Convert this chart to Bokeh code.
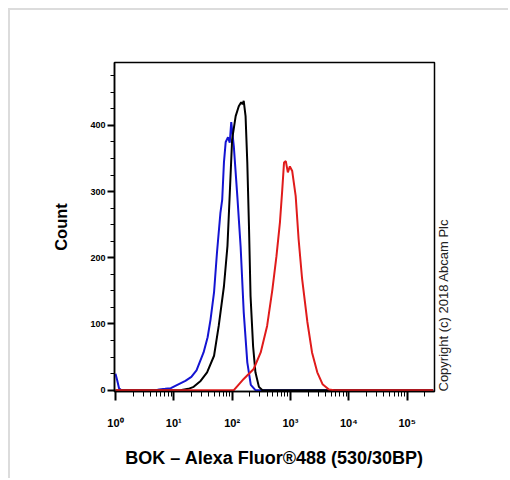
import math
from bokeh.plotting import figure
from bokeh.models import Range1d, FixedTicker, SingleIntervalTicker, LinearAxis
from bokeh.embed import file_html
from bokeh.resources import INLINE

# ---- data (fluorescence intensity vs count) ----
blue_x = [1.0, 1.07, 1.15, 1.26, 5.0, 5.6, 7.1, 8.9, 11.5, 15.8, 20, 24.5, 32.4, 38, 42.7, 49, 55, 63,
          67.6, 72.4, 77.6, 85, 91, 96.6, 107, 123, 140, 158, 182, 209, 251, 2.8e5]
blue_y = [25, 15, 3, 0, 0, 1, 2, 3, 8, 14, 20, 30, 57, 80, 107, 148, 208, 268,
          288, 344, 375, 382, 374, 405, 368, 292, 216, 118, 42, 8, 0, 0]

black_x = [1.0, 12.9, 17.8, 21.9, 28.8, 37.2, 49, 58.9, 72.4, 83.2, 93.3, 100, 115, 130, 143, 151,
           158, 170, 182, 195, 207, 229, 251, 288, 331, 2.8e5]
black_y = [0, 0, 2, 5, 14, 27, 52, 97, 157, 218, 318, 379, 414, 429, 435, 432,
           437, 414, 344, 243, 142, 66, 27, 5, 0, 0]

red_x = [1.0, 107, 158, 234, 309, 398, 490, 575, 661, 724, 776, 832, 902, 977, 1072, 1230, 1380,
         1585, 1950, 2344, 2884, 3548, 4571, 5623, 2.8e5]
red_y = [0, 0, 17, 32, 57, 97, 152, 202, 254, 303, 344, 346, 329, 338, 331, 293, 228,
         168, 103, 57, 27, 9, 1, 0, 0]

x_major = [1, 10, 100, 1000, 10000, 100000]
x_labels = ["10⁰", "10¹", "10²", "10³", "10⁴", "10⁵"]

FONT = "Liberation Sans"

p = figure(width=500, height=470, x_axis_type="log",
           x_range=Range1d(0.962, 2.95e5), y_range=Range1d(-2, 495),
           output_backend="svg", toolbar_location=None,
           min_border_left=104, min_border_top=52, min_border_right=76, min_border_bottom=89,
           styles={"margin-left": "8px", "margin-top": "8px",
                   "border-top": "2px solid #dcdcdc", "border-left": "2px solid #dcdcdc"})

p.grid.visible = False
p.outline_line_color = "black"
p.outline_line_width = 1.5

p.line(blue_x, blue_y, line_color="#1414d2", line_width=2)
p.line(black_x, black_y, line_color="black", line_width=2)
p.line(red_x, red_y, line_color="#e01b1b", line_width=2)

# x axis
minor = [m * d for d in x_major for m in range(2, 10)]
p.xaxis.ticker = FixedTicker(ticks=x_major, minor_ticks=minor)
p.xaxis.major_label_overrides = {t: l for t, l in zip(x_major, x_labels)}
p.xaxis.axis_label = "BOK – Alexa Fluor®488 (530/30BP)"

# y axis
p.yaxis.ticker = SingleIntervalTicker(interval=100, num_minor_ticks=4)
p.yaxis.axis_label = "Count"

for ax in (p.xaxis[0], p.yaxis[0]):
    ax.axis_line_color = "black"
    ax.axis_line_width = 1.5
    ax.major_tick_line_color = "black"
    ax.minor_tick_line_color = "black"
    ax.major_tick_line_width = 2
    ax.minor_tick_line_width = 1
    ax.major_tick_in = 0
    ax.minor_tick_in = 0
    ax.major_label_text_font = FONT
    ax.major_label_text_font_style = "bold"
    ax.major_label_text_color = "black"
    ax.axis_label_text_font = FONT
    ax.axis_label_text_font_style = "bold"
    ax.axis_label_text_color = "black"

p.xaxis.major_tick_out = 9
p.xaxis.minor_tick_out = 5
p.xaxis.major_label_standoff = 16
p.xaxis.major_label_text_font_size = "11px"
p.xaxis.axis_label_text_font_size = "18px"
p.xaxis.axis_label_standoff = 16

p.yaxis.major_tick_out = 7
p.yaxis.minor_tick_out = 4
p.yaxis.major_label_standoff = 2
p.yaxis.major_label_text_font_size = "9px"
p.yaxis.axis_label_text_font_size = "16.5px"
p.yaxis.axis_label_standoff = 17

# copyright note as the label of a bare right-hand axis
cr = LinearAxis(ticker=FixedTicker(ticks=[]), axis_line_color=None,
                major_tick_line_color=None, minor_tick_line_color=None,
                major_tick_out=0, minor_tick_out=0, major_label_text_font_size="0px",
                axis_label="Copyright (c) 2018 Abcam Plc", axis_label_standoff=9,
                axis_label_text_font=FONT, axis_label_text_font_size="13px",
                axis_label_text_font_style="normal", axis_label_text_color="#222222")
try:
    cr.axis_label_orientation = math.pi / 2
except Exception:
    pass
try:
    cr.axis_label_align = "start"
except Exception:
    pass
p.add_layout(cr, "right")

open("out.html", "w").write(file_html(p, INLINE))
